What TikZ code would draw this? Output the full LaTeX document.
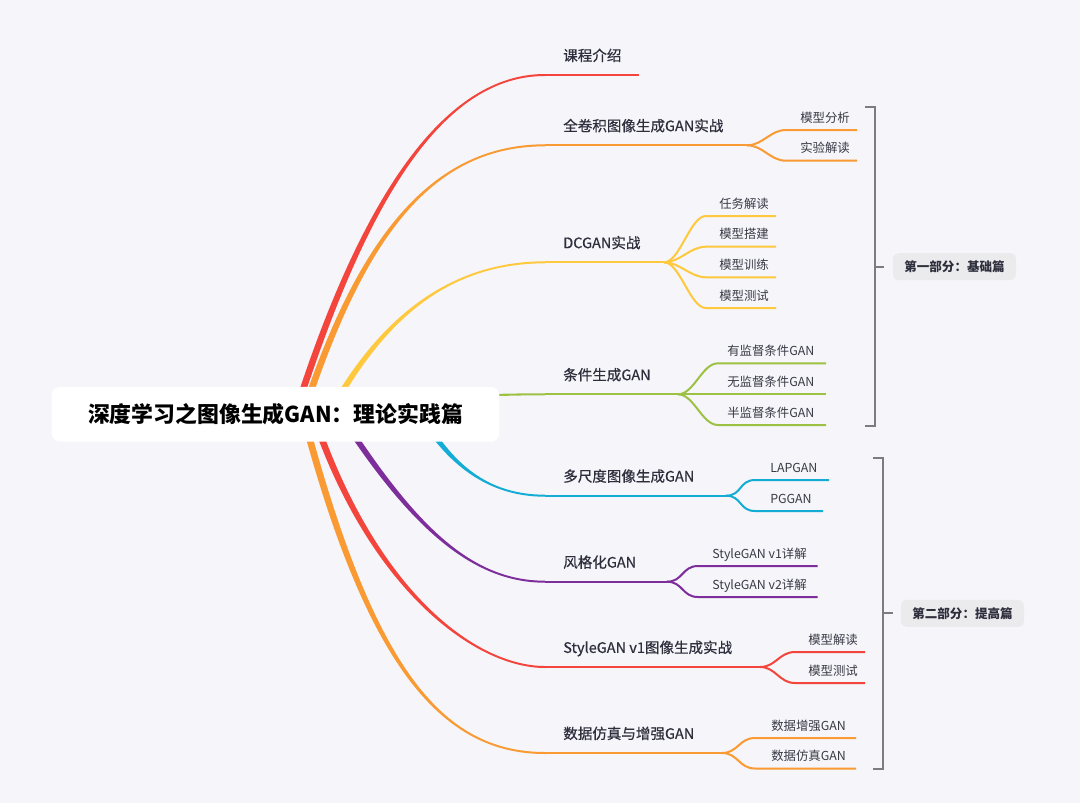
\documentclass[tikz,border=0pt]{standalone}
\usepackage{fontspec}
\setmainfont{Noto Sans CJK SC}
\newfontfamily\topicfont[FakeBold=0.45]{Noto Sans CJK SC}
\usetikzlibrary{calc,positioning}

\definecolor{bgc}{HTML}{F5F5FA}
\definecolor{txt}{HTML}{2E2E3C}
\definecolor{subtxt}{HTML}{3A3A46}
\definecolor{bred}{HTML}{F3453B}
\definecolor{borange}{HTML}{F99A33}
\definecolor{byellow}{HTML}{FFC93D}
\definecolor{bgreen}{HTML}{9DC243}
\definecolor{bcyan}{HTML}{12ACD5}
\definecolor{bpurple}{HTML}{7D2E9B}
\definecolor{brk}{HTML}{7C7C80}
\definecolor{partfill}{HTML}{EBEBEE}

\pgfdeclarelayer{bg}
\pgfdeclarelayer{branch}
\pgfsetlayers{bg,branch,main}

% tapered main branch: colour, start, ctrl1, ctrl2, end, start offset, end offset
\newcommand{\ribbon}[7]{%
  \fill[#1] ($#2+#6$) .. controls ($#3+#6$) and ($#4+#7$) .. ($#5+#7$)
    -- ($#5-#7$) .. controls ($#4-#7$) and ($#3-#6$) .. ($#2-#6$) -- cycle;}
% sub branch: colour, junction, curve end, underline end
\newcommand{\subbranch}[4]{%
  \draw[subln, #1] (#2) .. controls ($(#2)+(16,0)$) and ($(#3)+(-16,0)$) .. (#3) -- (#4);}

\begin{document}
\begin{tikzpicture}[
  x=0.75pt, y=-0.75pt,
  root/.style={fill=white, rounded corners=6pt, minimum width=335.7pt, minimum height=41pt,
    inner sep=0pt, font=\fontsize{16.4pt}{19pt}\selectfont\bfseries, text=black},
  topic/.style={anchor=west, inner sep=0pt, text=txt, text height=9pt, text depth=0.9pt,
    font=\topicfont\fontsize{10.9pt}{12pt}\selectfont},
  sub/.style={anchor=west, inner sep=0pt, text=subtxt, text height=7.8pt, text depth=0.75pt,
    font=\fontsize{9.3pt}{11pt}\selectfont},
  part/.style={fill=partfill, rounded corners=4pt, minimum width=92.25pt, minimum height=20.25pt,
    inner sep=0pt, text=txt, font=\fontsize{9.4pt}{11pt}\selectfont\bfseries},
  mainln/.style={line width=1.5pt},
  subln/.style={line width=1.5pt},
  brace/.style={draw=brk, line width=1.5pt}
]
\begin{pgfonlayer}{bg}
  \fill[bgc] (0,0) rectangle (1080,803);
\end{pgfonlayer}

% central topic
\node[root] (root) at (275.5,414.3) {深度学习之图像生成GAN：理论实践篇};

\coordinate (r1) at ($(root.center)+(19.5,0)$);
\coordinate (r2) at ($(root.center)+(27.5,0)$);
\coordinate (r3) at ($(root.center)+(53.5,0)$);
\coordinate (r4) at ($(root.center)+(54.5,0)$);
\coordinate (r5) at ($(root.center)+(144.5,0)$);
\coordinate (r6) at ($(root.center)+(64.5,0)$);
\coordinate (r7) at ($(root.center)+(37.5,0)$);
\coordinate (r8) at ($(root.center)+(27.5,0)$);

% topics
\node[topic] (t1) at (563,55.5)  {课程介绍};
\node[topic] (t2) at (563,125.8) {全卷积图像生成GAN实战};
\node[topic] (t3) at (563,242.8) {DCGAN实战};
\node[topic] (t4) at (563,374.8) {条件生成GAN};
\node[topic] (t5) at (563,476.2) {多尺度图像生成GAN};
\node[topic] (t6) at (563,562.2) {风格化GAN};
\node[topic] (t7) at (563,647.5) {StyleGAN v1图像生成实战};
\node[topic] (t8) at (563,733.5) {数据仿真与增强GAN};

\coordinate (e1) at (545,75);    \coordinate (l1) at (638.8,75);
\coordinate (e2) at (545,145.3); \coordinate (j2) at (747,145.3);
\coordinate (e3) at (545,262.3); \coordinate (j3) at (664,262.3);
\coordinate (e4) at (545,394.3); \coordinate (j4) at (678,394.3);
\coordinate (e5) at (545,495.7); \coordinate (j5) at (726,495.7);
\coordinate (e6) at (545,581.7); \coordinate (j6) at (667,581.7);
\coordinate (e7) at (545,667);   \coordinate (j7) at (760,667);
\coordinate (e8) at (545,753);   \coordinate (j8) at (722,753);

\begin{pgfonlayer}{branch}
  \ribbon{bred}{(r1)}{(365,194)}{(445,75)}{(e1)}{(-3.5,0)}{(0,-1)}
  \ribbon{borange}{(r2)}{(360,240)}{(430,145.3)}{(e2)}{(-3.5,0)}{(0,-1)}
  \ribbon{byellow}{(r3)}{(375,330)}{(440,262.3)}{(e3)}{(-3.5,0)}{(0,-1)}
  \ribbon{bgreen}{(r4)}{(400,400)}{(460,394.3)}{(e4)}{(0,-2)}{(0,-1)}
  \ribbon{bcyan}{(r5)}{(445,455)}{(480,495.7)}{(e5)}{(-3.5,0)}{(0,1)}
  \ribbon{bpurple}{(r6)}{(411,524)}{(470,581.7)}{(e6)}{(-3.5,0)}{(0,1)}
  \ribbon{bred}{(r7)}{(372,590)}{(475,667)}{(e7)}{(-3.5,0)}{(0,1)}
  \ribbon{borange}{(r8)}{(369,664)}{(440,753)}{(e8)}{(-3.5,0)}{(0,1)}
\end{pgfonlayer}

\draw[mainln, bred]    (e1) -- (l1);
\draw[mainln, borange] (e2) -- (j2);
\draw[mainln, byellow] (e3) -- (j3);
\draw[mainln, bgreen]  (e4) -- (j4);
\draw[mainln, bcyan]   (e5) -- (j5);
\draw[mainln, bpurple] (e6) -- (j6);
\draw[mainln, bred]    (e7) -- (j7);
\draw[mainln, borange] (e8) -- (j8);

% sub topics
\node[sub] (s21) at (800,117.3) {模型分析};
\node[sub] (s22) at (800,148)   {实验解读};
\coordinate (c21) at (786,130);   \coordinate (u21) at (857,130);
\coordinate (c22) at (786,160.7); \coordinate (u22) at (857,160.7);
\subbranch{borange}{j2}{c21}{u21}
\subbranch{borange}{j2}{c22}{u22}

\node[sub] (s31) at (719,203.3) {任务解读};
\node[sub] (s32) at (719,234)   {模型搭建};
\node[sub] (s33) at (719,264.6) {模型训练};
\node[sub] (s34) at (719,295.3) {模型测试};
\coordinate (c31) at (706,216);   \coordinate (u31) at (776,216);
\coordinate (c32) at (706,246.7); \coordinate (u32) at (776,246.7);
\coordinate (c33) at (706,277.3); \coordinate (u33) at (776,277.3);
\coordinate (c34) at (706,308);   \coordinate (u34) at (776,308);
\subbranch{byellow}{j3}{c31}{u31}
\subbranch{byellow}{j3}{c32}{u32}
\subbranch{byellow}{j3}{c33}{u33}
\subbranch{byellow}{j3}{c34}{u34}

\node[sub] (s41) at (727,350.6) {有监督条件GAN};
\node[sub] (s42) at (727,381.6) {无监督条件GAN};
\node[sub] (s43) at (727,412.3) {半监督条件GAN};
\coordinate (c41) at (718,363.3); \coordinate (u41) at (826,363.3);
\coordinate (c42) at (718,394.3); \coordinate (u42) at (826,394.3);
\coordinate (c43) at (718,425);   \coordinate (u43) at (826,425);
\subbranch{bgreen}{j4}{c41}{u41}
\subbranch{bgreen}{j4}{c42}{u42}
\subbranch{bgreen}{j4}{c43}{u43}

\node[sub] (s51) at (770,467.3) {LAPGAN};
\node[sub] (s52) at (770,498.3) {PGGAN};
\coordinate (c51) at (755,480); \coordinate (u51) at (829,480);
\coordinate (c52) at (755,511); \coordinate (u52) at (823,511);
\subbranch{bcyan}{j5}{c51}{u51}
\subbranch{bcyan}{j5}{c52}{u52}

\node[sub] (s61) at (712,553.3) {StyleGAN v1详解};
\node[sub] (s62) at (712,584.3) {StyleGAN v2详解};
\coordinate (c61) at (698,566); \coordinate (u61) at (817.5,566);
\coordinate (c62) at (698,597); \coordinate (u62) at (817.5,597);
\subbranch{bpurple}{j6}{c61}{u61}
\subbranch{bpurple}{j6}{c62}{u62}

\node[sub] (s71) at (808,639.3) {模型解读};
\node[sub] (s72) at (808,670.3) {模型测试};
\coordinate (c71) at (795,652); \coordinate (u71) at (865,652);
\coordinate (c72) at (795,683); \coordinate (u72) at (865,683);
\subbranch{bred}{j7}{c71}{u71}
\subbranch{bred}{j7}{c72}{u72}

\node[sub] (s81) at (771,725.3) {数据增强GAN};
\node[sub] (s82) at (771,755.8) {数据仿真GAN};
\coordinate (c81) at (755,738);   \coordinate (u81) at (856,738);
\coordinate (c82) at (755,768.5); \coordinate (u82) at (856,768.5);
\subbranch{borange}{j8}{c81}{u81}
\subbranch{borange}{j8}{c82}{u82}

% part summaries
\node[part] (p1) at (954.5,266.7) {第一部分：基础篇};
\node[part] (p2) at (962.5,613.3) {第二部分：提高篇};
\draw[brace] (865.4,107) -- (874.7,107) -- (874.7,425.7) -- (865.4,425.7);
\draw[brace] (874.7,266.7) -- ($(p1.west)+(-8.6,0)$);
\draw[brace] (873.3,457.7) -- (883.3,457.7) -- (883.3,769.3) -- (873.3,769.3);
\draw[brace] (883.3,613.3) -- ($(p2.west)+(-8,0)$);
\end{tikzpicture}
\end{document}
